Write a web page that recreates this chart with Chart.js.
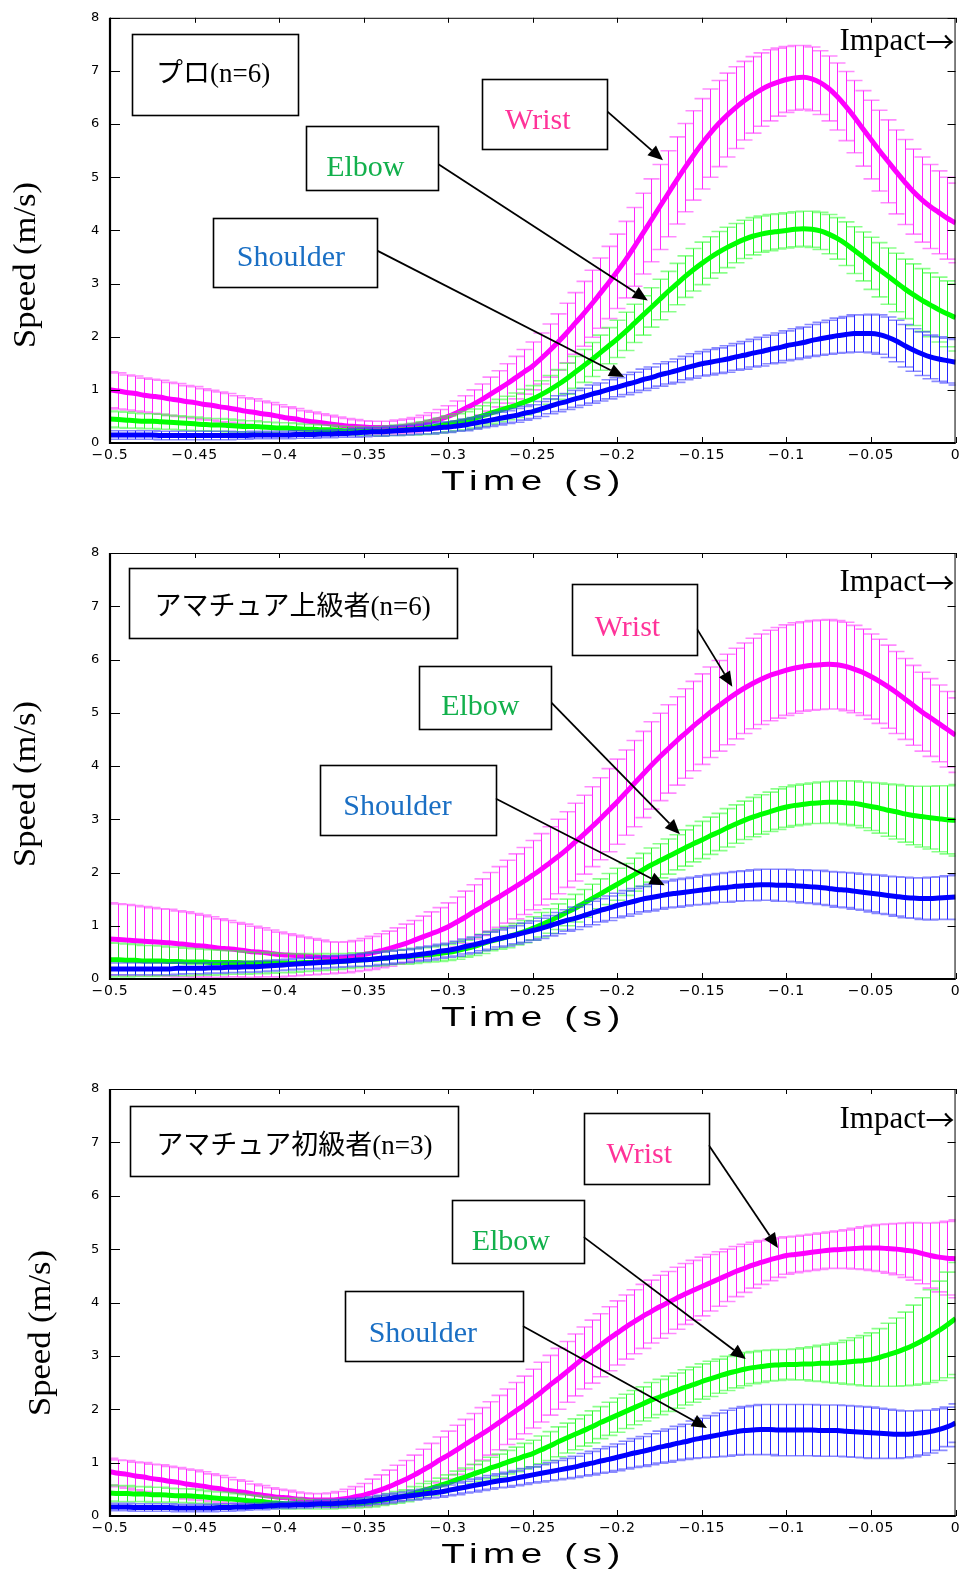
<!DOCTYPE html>
<html><head><meta charset="utf-8">
<script src="https://cdn.jsdelivr.net/npm/chart.js@4.4.0/dist/chart.umd.min.js"></script>
<style>
html,body{margin:0;padding:0;background:#fff;}
body{width:964px;height:1575px;position:relative;overflow:hidden;}
canvas{position:absolute;left:0;}
</style></head><body>
<canvas id="c1" width="964" height="525" style="top:0px"></canvas>
<canvas id="c2" width="964" height="535" style="top:525px"></canvas>
<canvas id="c3" width="964" height="515" style="top:1060px"></canvas>
<script>
// ---------- DATA ----------
const times = [-0.500,-0.495,-0.490,-0.485,-0.480,-0.475,-0.470,-0.465,-0.460,-0.455,-0.450,-0.445,-0.440,-0.435,-0.430,-0.425,-0.420,-0.415,-0.410,-0.405,-0.400,-0.395,-0.390,-0.385,-0.380,-0.375,-0.370,-0.365,-0.360,-0.355,-0.350,-0.345,-0.340,-0.335,-0.330,-0.325,-0.320,-0.315,-0.310,-0.305,-0.300,-0.295,-0.290,-0.285,-0.280,-0.275,-0.270,-0.265,-0.260,-0.255,-0.250,-0.245,-0.240,-0.235,-0.230,-0.225,-0.220,-0.215,-0.210,-0.205,-0.200,-0.195,-0.190,-0.185,-0.180,-0.175,-0.170,-0.165,-0.160,-0.155,-0.150,-0.145,-0.140,-0.135,-0.130,-0.125,-0.120,-0.115,-0.110,-0.105,-0.100,-0.095,-0.090,-0.085,-0.080,-0.075,-0.070,-0.065,-0.060,-0.055,-0.050,-0.045,-0.040,-0.035,-0.030,-0.025,-0.020,-0.015,-0.010,-0.005,0];

const xTickValues = [-0.5,-0.45,-0.4,-0.35,-0.3,-0.25,-0.2,-0.15,-0.1,-0.05,0];
const xTickLabels = ['\u22120.5','\u22120.45','\u22120.4','\u22120.35','\u22120.3','\u22120.25','\u22120.2','\u22120.15','\u22120.1','\u22120.05','0'];
const yTickValues = [0,1,2,3,4,5,6,7,8];
const yTickLabels = ['0','1','2','3','4','5','6','7','8'];

const seriesNames = ['Wrist','Elbow','Shoulder'];
const panelTitles = ['プロ(n=6)','アマチュア上級者(n=6)','アマチュア初級者(n=3)'];

// Panel 1: プロ
const p1WristMean = [1.00,0.98,0.95,0.93,0.90,0.88,0.86,0.83,0.81,0.78,0.76,
0.73,0.71,0.68,0.66,0.63,0.60,0.58,0.55,0.53,0.50,
0.47,0.45,0.42,0.40,0.38,0.36,0.34,0.32,0.31,0.30,
0.29,0.29,0.29,0.30,0.32,0.34,0.37,0.41,0.45,0.50,
0.57,0.65,0.73,0.82,0.92,1.02,1.12,1.23,1.34,1.45,
1.59,1.74,1.90,2.07,2.25,2.43,2.62,2.82,3.02,3.23,
3.45,3.69,3.94,4.19,4.44,4.69,4.94,5.18,5.41,5.63,
5.83,6.01,6.17,6.31,6.44,6.55,6.65,6.73,6.79,6.84,
6.87,6.88,6.85,6.78,6.67,6.52,6.34,6.14,5.92,5.71,
5.50,5.30,5.10,4.91,4.73,4.58,4.45,4.34,4.23,4.14];
const p1WristSD = [0.34,0.34,0.33,0.33,0.32,0.32,0.32,0.31,0.31,0.30,0.30,
0.29,0.28,0.28,0.27,0.26,0.25,0.25,0.24,0.23,0.22,
0.21,0.20,0.19,0.18,0.17,0.16,0.15,0.14,0.13,0.12,
0.12,0.12,0.12,0.13,0.13,0.14,0.15,0.16,0.18,0.20,
0.22,0.24,0.27,0.29,0.32,0.34,0.37,0.40,0.42,0.45,
0.48,0.50,0.53,0.56,0.58,0.61,0.63,0.66,0.68,0.70,
0.72,0.74,0.76,0.78,0.80,0.81,0.82,0.83,0.84,0.85,
0.83,0.81,0.79,0.77,0.74,0.72,0.69,0.67,0.64,0.62,
0.61,0.60,0.60,0.60,0.61,0.63,0.65,0.68,0.71,0.74,
0.76,0.78,0.79,0.80,0.80,0.80,0.79,0.78,0.77,0.75];
const p1ElbowMean = [0.45,0.44,0.43,0.42,0.41,0.41,0.40,0.39,0.38,0.37,0.36,
0.35,0.34,0.34,0.33,0.32,0.31,0.31,0.30,0.29,0.28,
0.28,0.27,0.26,0.26,0.25,0.25,0.24,0.23,0.23,0.22,
0.22,0.22,0.23,0.24,0.25,0.26,0.28,0.30,0.33,0.36,
0.39,0.42,0.46,0.51,0.56,0.61,0.66,0.71,0.77,0.83,
0.91,1.00,1.10,1.21,1.33,1.45,1.57,1.70,1.83,1.96,
2.10,2.25,2.40,2.55,2.70,2.85,2.99,3.13,3.26,3.38,
3.49,3.59,3.68,3.76,3.83,3.89,3.93,3.96,3.98,4.00,
4.02,4.03,4.02,3.99,3.93,3.85,3.75,3.63,3.51,3.38,
3.26,3.14,3.02,2.90,2.79,2.69,2.60,2.51,2.43,2.36];
const p1ElbowSD = [0.15,0.15,0.15,0.14,0.14,0.14,0.14,0.13,0.13,0.13,0.13,
0.12,0.12,0.12,0.12,0.11,0.11,0.11,0.10,0.10,0.10,
0.10,0.10,0.09,0.09,0.09,0.09,0.08,0.08,0.08,0.08,
0.08,0.09,0.09,0.10,0.10,0.11,0.12,0.13,0.14,0.15,
0.16,0.17,0.18,0.19,0.20,0.21,0.22,0.23,0.24,0.25,
0.26,0.27,0.28,0.29,0.30,0.31,0.32,0.33,0.34,0.35,
0.36,0.36,0.37,0.37,0.38,0.38,0.39,0.39,0.40,0.40,
0.39,0.39,0.38,0.37,0.36,0.35,0.34,0.34,0.33,0.33,
0.33,0.33,0.34,0.35,0.37,0.39,0.41,0.44,0.46,0.49,
0.51,0.53,0.55,0.56,0.58,0.59,0.60,0.61,0.62,0.63];
const p1ShoulderMean = [0.15,0.15,0.15,0.15,0.15,0.15,0.14,0.14,0.14,0.14,0.14,
0.14,0.14,0.14,0.14,0.14,0.14,0.15,0.15,0.15,0.15,
0.15,0.16,0.16,0.16,0.17,0.17,0.18,0.18,0.19,0.20,
0.21,0.21,0.22,0.23,0.24,0.25,0.26,0.27,0.29,0.30,
0.32,0.34,0.37,0.40,0.43,0.46,0.49,0.52,0.56,0.59,
0.64,0.69,0.74,0.78,0.83,0.87,0.92,0.96,1.01,1.05,
1.10,1.14,1.19,1.23,1.28,1.32,1.36,1.41,1.45,1.49,
1.52,1.55,1.58,1.62,1.65,1.69,1.72,1.76,1.79,1.83,
1.86,1.89,1.93,1.96,1.99,2.02,2.04,2.06,2.06,2.06,
2.04,1.99,1.92,1.83,1.75,1.68,1.62,1.58,1.55,1.52];
const p1ShoulderSD = [0.08,0.08,0.08,0.08,0.08,0.08,0.08,0.08,0.08,0.08,0.08,
0.08,0.08,0.08,0.08,0.07,0.07,0.07,0.07,0.07,0.07,
0.07,0.07,0.07,0.07,0.07,0.07,0.07,0.07,0.08,0.08,
0.08,0.08,0.08,0.09,0.09,0.09,0.09,0.10,0.10,0.10,
0.10,0.11,0.11,0.11,0.12,0.12,0.12,0.13,0.13,0.13,
0.14,0.14,0.15,0.15,0.16,0.16,0.17,0.17,0.18,0.18,
0.19,0.19,0.20,0.20,0.21,0.21,0.22,0.22,0.23,0.23,
0.24,0.24,0.25,0.25,0.26,0.26,0.27,0.27,0.28,0.28,
0.29,0.29,0.30,0.31,0.32,0.33,0.34,0.35,0.35,0.36,
0.37,0.38,0.39,0.40,0.40,0.41,0.41,0.42,0.42,0.43];

// Panel 2: アマチュア上級者
const p2WristMean = [0.75,0.74,0.73,0.72,0.71,0.70,0.69,0.68,0.66,0.65,0.63,
0.62,0.60,0.58,0.57,0.55,0.53,0.51,0.50,0.48,0.46,
0.45,0.44,0.43,0.42,0.41,0.40,0.40,0.41,0.43,0.46,
0.49,0.53,0.57,0.62,0.67,0.73,0.79,0.85,0.91,0.98,
1.07,1.16,1.26,1.35,1.45,1.54,1.64,1.74,1.84,1.95,
2.06,2.18,2.30,2.43,2.57,2.71,2.86,3.01,3.17,3.33,
3.50,3.67,3.84,4.01,4.17,4.32,4.47,4.61,4.75,4.88,
5.01,5.13,5.25,5.36,5.46,5.55,5.63,5.70,5.75,5.80,
5.84,5.87,5.89,5.90,5.91,5.90,5.87,5.82,5.76,5.68,
5.59,5.49,5.38,5.26,5.14,5.02,4.91,4.80,4.69,4.58];
const p2WristSD = [0.68,0.67,0.67,0.66,0.65,0.64,0.63,0.63,0.62,0.61,0.60,
0.58,0.57,0.55,0.53,0.51,0.50,0.48,0.46,0.44,0.42,
0.40,0.38,0.36,0.34,0.32,0.30,0.29,0.29,0.29,0.30,
0.31,0.32,0.33,0.34,0.36,0.37,0.39,0.41,0.43,0.45,
0.47,0.49,0.51,0.53,0.55,0.57,0.59,0.61,0.63,0.65,
0.67,0.68,0.70,0.71,0.73,0.74,0.75,0.77,0.78,0.80,
0.80,0.81,0.81,0.82,0.82,0.83,0.83,0.84,0.84,0.85,
0.85,0.85,0.85,0.85,0.85,0.85,0.85,0.85,0.85,0.85,
0.85,0.84,0.84,0.84,0.84,0.83,0.83,0.82,0.81,0.80,
0.79,0.78,0.77,0.76,0.75,0.74,0.73,0.72,0.71,0.70];
const p2ElbowMean = [0.36,0.36,0.35,0.35,0.34,0.34,0.34,0.33,0.33,0.32,0.32,
0.32,0.31,0.31,0.31,0.31,0.30,0.30,0.30,0.30,0.30,
0.30,0.30,0.31,0.31,0.32,0.32,0.33,0.34,0.35,0.36,
0.37,0.38,0.40,0.41,0.42,0.43,0.45,0.46,0.48,0.50,
0.53,0.57,0.61,0.66,0.71,0.75,0.79,0.84,0.89,0.95,
1.02,1.09,1.17,1.25,1.33,1.42,1.51,1.60,1.69,1.78,
1.87,1.96,2.05,2.14,2.22,2.30,2.38,2.46,2.54,2.61,
2.69,2.76,2.84,2.91,2.98,3.04,3.09,3.14,3.19,3.23,
3.26,3.28,3.30,3.31,3.32,3.32,3.31,3.30,3.27,3.24,
3.21,3.17,3.14,3.10,3.07,3.05,3.03,3.01,2.99,2.98];
const p2ElbowSD = [0.32,0.31,0.31,0.30,0.29,0.29,0.28,0.27,0.27,0.26,0.25,
0.24,0.24,0.23,0.22,0.22,0.21,0.20,0.20,0.19,0.18,
0.18,0.17,0.17,0.16,0.16,0.15,0.15,0.14,0.14,0.13,
0.13,0.13,0.13,0.13,0.14,0.14,0.14,0.14,0.15,0.15,
0.16,0.16,0.17,0.18,0.18,0.19,0.20,0.20,0.21,0.22,
0.23,0.23,0.24,0.25,0.26,0.26,0.27,0.28,0.29,0.30,
0.30,0.31,0.31,0.32,0.32,0.33,0.33,0.34,0.34,0.35,
0.35,0.35,0.36,0.36,0.36,0.37,0.37,0.37,0.38,0.38,
0.38,0.38,0.38,0.39,0.39,0.40,0.41,0.42,0.43,0.45,
0.47,0.49,0.51,0.53,0.55,0.57,0.59,0.62,0.64,0.67];
const p2ShoulderMean = [0.19,0.19,0.19,0.19,0.19,0.19,0.19,0.19,0.20,0.20,0.20,
0.20,0.21,0.21,0.22,0.22,0.23,0.23,0.24,0.25,0.26,
0.27,0.28,0.29,0.30,0.31,0.32,0.33,0.34,0.35,0.36,
0.37,0.39,0.40,0.42,0.43,0.45,0.47,0.49,0.52,0.54,
0.57,0.61,0.64,0.68,0.72,0.76,0.79,0.83,0.87,0.91,
0.95,1.00,1.05,1.10,1.14,1.19,1.24,1.29,1.33,1.38,
1.42,1.46,1.50,1.53,1.56,1.59,1.61,1.63,1.65,1.67,
1.69,1.71,1.72,1.74,1.75,1.76,1.77,1.77,1.76,1.76,
1.75,1.74,1.73,1.72,1.70,1.68,1.67,1.65,1.63,1.61,
1.59,1.57,1.55,1.53,1.52,1.51,1.51,1.52,1.53,1.54];
const p2ShoulderSD = [0.11,0.11,0.11,0.11,0.11,0.11,0.11,0.11,0.11,0.10,0.10,
0.10,0.10,0.10,0.10,0.10,0.10,0.10,0.10,0.10,0.10,
0.10,0.10,0.10,0.11,0.11,0.11,0.11,0.11,0.11,0.12,
0.12,0.12,0.12,0.12,0.12,0.12,0.13,0.13,0.13,0.13,
0.14,0.14,0.15,0.15,0.16,0.16,0.17,0.17,0.18,0.18,
0.19,0.19,0.20,0.20,0.21,0.21,0.22,0.22,0.23,0.23,
0.24,0.24,0.24,0.25,0.25,0.25,0.26,0.26,0.26,0.27,
0.27,0.27,0.28,0.28,0.28,0.29,0.29,0.29,0.30,0.30,
0.30,0.31,0.31,0.32,0.32,0.33,0.33,0.34,0.34,0.35,
0.36,0.36,0.37,0.38,0.38,0.39,0.40,0.40,0.41,0.42];

// Panel 3: アマチュア初級者
const p3WristMean = [0.83,0.80,0.78,0.75,0.73,0.70,0.68,0.65,0.63,0.60,0.58,
0.56,0.53,0.51,0.48,0.46,0.44,0.41,0.39,0.37,0.35,
0.34,0.32,0.31,0.30,0.30,0.30,0.31,0.33,0.36,0.39,
0.44,0.49,0.55,0.62,0.69,0.77,0.86,0.95,1.05,1.14,
1.24,1.34,1.44,1.54,1.64,1.75,1.86,1.97,2.08,2.20,
2.32,2.45,2.57,2.70,2.83,2.96,3.08,3.20,3.32,3.43,
3.54,3.64,3.74,3.83,3.92,4.00,4.08,4.16,4.23,4.30,
4.37,4.44,4.51,4.58,4.64,4.70,4.75,4.80,4.84,4.88,
4.90,4.92,4.94,4.96,4.98,4.99,5.00,5.01,5.02,5.02,
5.02,5.01,5.00,4.98,4.96,4.92,4.88,4.85,4.83,4.82];
const p3WristSD = [0.25,0.25,0.26,0.26,0.27,0.27,0.28,0.28,0.28,0.28,0.28,
0.27,0.26,0.25,0.24,0.22,0.21,0.19,0.18,0.16,0.15,
0.14,0.13,0.12,0.12,0.12,0.13,0.15,0.17,0.19,0.22,
0.25,0.28,0.31,0.33,0.35,0.37,0.39,0.41,0.43,0.45,
0.46,0.47,0.48,0.49,0.50,0.51,0.52,0.53,0.54,0.55,
0.56,0.56,0.57,0.57,0.58,0.58,0.59,0.59,0.60,0.60,
0.60,0.60,0.60,0.59,0.59,0.58,0.58,0.57,0.56,0.55,
0.53,0.51,0.49,0.47,0.45,0.43,0.41,0.39,0.37,0.35,
0.34,0.34,0.34,0.34,0.34,0.35,0.36,0.38,0.40,0.42,
0.44,0.46,0.48,0.51,0.54,0.57,0.61,0.65,0.69,0.73];
const p3ElbowMean = [0.43,0.42,0.42,0.41,0.41,0.40,0.40,0.39,0.38,0.38,0.37,
0.36,0.34,0.33,0.32,0.31,0.29,0.28,0.27,0.25,0.24,
0.23,0.23,0.22,0.22,0.22,0.22,0.22,0.23,0.23,0.24,
0.26,0.29,0.32,0.35,0.38,0.43,0.48,0.52,0.57,0.62,
0.68,0.73,0.79,0.84,0.90,0.95,1.01,1.06,1.12,1.17,
1.24,1.31,1.39,1.46,1.53,1.60,1.67,1.75,1.82,1.89,
1.96,2.03,2.10,2.17,2.23,2.29,2.35,2.41,2.46,2.52,
2.57,2.62,2.67,2.71,2.75,2.78,2.80,2.82,2.83,2.84,
2.84,2.85,2.85,2.86,2.86,2.87,2.88,2.90,2.91,2.93,
2.97,3.02,3.07,3.13,3.20,3.28,3.37,3.47,3.58,3.70];
const p3ElbowSD = [0.15,0.15,0.15,0.14,0.14,0.14,0.14,0.13,0.13,0.13,0.13,
0.12,0.12,0.12,0.12,0.11,0.11,0.11,0.10,0.10,0.10,
0.10,0.10,0.09,0.09,0.09,0.09,0.08,0.08,0.08,0.08,
0.09,0.09,0.10,0.11,0.11,0.12,0.13,0.13,0.14,0.15,
0.16,0.17,0.18,0.19,0.20,0.21,0.22,0.23,0.24,0.25,
0.26,0.27,0.28,0.28,0.29,0.29,0.30,0.30,0.31,0.32,
0.32,0.32,0.32,0.33,0.33,0.33,0.33,0.33,0.33,0.33,
0.33,0.32,0.32,0.31,0.31,0.30,0.30,0.29,0.29,0.28,
0.29,0.30,0.32,0.34,0.36,0.38,0.41,0.44,0.47,0.50,
0.54,0.59,0.64,0.69,0.75,0.81,0.87,0.93,0.99,1.05];
const p3ShoulderMean = [0.17,0.17,0.17,0.16,0.16,0.16,0.16,0.16,0.15,0.15,0.15,
0.15,0.15,0.16,0.16,0.17,0.17,0.18,0.18,0.19,0.20,
0.20,0.21,0.21,0.22,0.23,0.23,0.24,0.25,0.26,0.27,
0.29,0.31,0.33,0.35,0.37,0.39,0.41,0.43,0.45,0.48,
0.51,0.54,0.57,0.60,0.63,0.66,0.68,0.71,0.74,0.77,
0.80,0.83,0.86,0.89,0.92,0.96,0.99,1.03,1.06,1.10,
1.14,1.18,1.21,1.25,1.29,1.32,1.36,1.39,1.43,1.46,
1.49,1.52,1.55,1.58,1.60,1.61,1.62,1.62,1.61,1.61,
1.61,1.61,1.61,1.60,1.60,1.60,1.59,1.58,1.57,1.56,
1.55,1.54,1.53,1.53,1.54,1.56,1.58,1.62,1.67,1.74];
const p3ShoulderSD = [0.07,0.07,0.07,0.07,0.07,0.07,0.07,0.07,0.07,0.07,0.07,
0.07,0.07,0.07,0.07,0.07,0.06,0.06,0.06,0.06,0.06,
0.06,0.06,0.06,0.06,0.07,0.07,0.07,0.07,0.07,0.07,
0.07,0.08,0.08,0.08,0.08,0.09,0.09,0.09,0.10,0.10,
0.11,0.11,0.12,0.12,0.13,0.13,0.14,0.14,0.15,0.15,
0.16,0.17,0.18,0.19,0.20,0.21,0.22,0.23,0.24,0.25,
0.26,0.27,0.28,0.29,0.30,0.31,0.32,0.33,0.35,0.37,
0.39,0.41,0.43,0.44,0.45,0.46,0.47,0.47,0.48,0.48,
0.48,0.48,0.48,0.48,0.48,0.48,0.48,0.48,0.48,0.48,
0.47,0.46,0.45,0.44,0.43,0.42,0.40,0.39,0.37,0.36];

// ---------- STYLE / LAYOUT ----------
const seriesStyle = {
  Wrist:    {line:'#ff00ff', bar:'rgba(255,0,255,0.85)', cap:'rgba(255,60,255,0.6)', text:'#ff3399', order:3},
  Elbow:    {line:'#00ff00', bar:'rgba(0,240,0,0.85)',   cap:'rgba(60,255,60,0.6)',  text:'#12b04c', order:2},
  Shoulder: {line:'#0000ff', bar:'rgba(0,0,255,0.85)',   cap:'rgba(60,60,255,0.6)',  text:'#1a6fc4', order:1}
};

// annotation positions in data units (x: s, y: m/s)
const panels = [
  { canvas:'c1', areaTop:16, areaBottom:443, height:525,
    series:{Wrist:[p1WristMean,p1WristSD], Elbow:[p1ElbowMean,p1ElbowSD], Shoulder:[p1ShoulderMean,p1ShoulderSD]},
    titleBox:{x0:-0.487,x1:-0.389,y0:6.18,y1:7.70, tx:-0.439, ty:6.93},
    boxes:{
      Wrist:   {x0:-0.280,x1:-0.206,y0:5.53,y1:6.84, tx:-0.247, ty:6.05, from:[-0.206,6.24], to:[-0.173,5.32]},
      Elbow:   {x0:-0.384,x1:-0.306,y0:4.76,y1:5.96, tx:-0.349, ty:5.17, from:[-0.306,5.25], to:[-0.182,2.68]},
      Shoulder:{x0:-0.439,x1:-0.342,y0:2.94,y1:4.23, tx:-0.393, ty:3.47, from:[-0.342,3.62], to:[-0.196,1.24]}
    },
    impactY:7.55, yTitle:{x:27, y:265}, xTitleDy:39 },
  { canvas:'c2', areaTop:28, areaBottom:454, height:535,
    series:{Wrist:[p2WristMean,p2WristSD], Elbow:[p2ElbowMean,p2ElbowSD], Shoulder:[p2ShoulderMean,p2ShoulderSD]},
    titleBox:{x0:-0.489,x1:-0.295,y0:6.41,y1:7.72, tx:-0.392, ty:6.97},
    boxes:{
      Wrist:   {x0:-0.227,x1:-0.153,y0:6.09,y1:7.42, tx:-0.194, ty:6.59, from:[-0.153,6.58], to:[-0.132,5.49]},
      Elbow:   {x0:-0.317,x1:-0.239,y0:4.70,y1:5.88, tx:-0.281, ty:5.11, from:[-0.239,5.19], to:[-0.163,2.72]},
      Shoulder:{x0:-0.376,x1:-0.272,y0:2.70,y1:4.01, tx:-0.330, ty:3.22, from:[-0.272,3.39], to:[-0.172,1.76]}
    },
    impactY:7.44, yTitle:{x:27, y:259}, xTitleDy:39 },
  { canvas:'c3', areaTop:29, areaBottom:456, height:515,
    series:{Wrist:[p3WristMean,p3WristSD], Elbow:[p3ElbowMean,p3ElbowSD], Shoulder:[p3ShoulderMean,p3ShoulderSD]},
    titleBox:{x0:-0.488,x1:-0.294,y0:6.37,y1:7.68, tx:-0.391, ty:6.91},
    boxes:{
      Wrist:   {x0:-0.220,x1:-0.146,y0:6.22,y1:7.55, tx:-0.187, ty:6.76, from:[-0.146,6.95], to:[-0.105,5.02]},
      Elbow:   {x0:-0.298,x1:-0.220,y0:4.74,y1:5.92, tx:-0.263, ty:5.13, from:[-0.220,5.23], to:[-0.124,2.94]},
      Shoulder:{x0:-0.361,x1:-0.256,y0:2.90,y1:4.22, tx:-0.315, ty:3.41, from:[-0.256,3.56], to:[-0.147,1.65]}
    },
    impactY:7.42, yTitle:{x:42, y:273}, xTitleDy:39 }
];

// ---------- PLUGINS ----------
const errorBarPlugin = {
  id:'errorBars',
  beforeDatasetDraw(chart, args) {
    const ds = chart.data.datasets[args.index];
    if (!ds.sd) return;
    const {ctx, chartArea:a, scales:{x, y}} = chart;
    ctx.save();
    ctx.beginPath(); ctx.rect(a.left, a.top, a.right - a.left, a.bottom - a.top); ctx.clip();
    ctx.lineWidth = 1; ctx.strokeStyle = ds.barColor;
    ctx.beginPath();
    ds.data.forEach((p, i) => {
      const px = Math.round(x.getPixelForValue(p.x)) + 0.5;
      ctx.moveTo(px, y.getPixelForValue(p.y + ds.sd[i]));
      ctx.lineTo(px, y.getPixelForValue(p.y - ds.sd[i]));
    });
    ctx.stroke();
    ctx.lineWidth = 1.6; ctx.strokeStyle = ds.capColor;
    ctx.beginPath();
    ds.data.forEach((p, i) => {
      const px = Math.round(x.getPixelForValue(p.x)) + 0.5;
      const yt = y.getPixelForValue(p.y + ds.sd[i]);
      const yb = y.getPixelForValue(p.y - ds.sd[i]);
      ctx.moveTo(px - 8, yt); ctx.lineTo(px + 8, yt);
      ctx.moveTo(px - 8, yb); ctx.lineTo(px + 8, yb);
    });
    ctx.stroke();
    ctx.restore();
  }
};

const framePlugin = {
  id:'frame',
  afterDatasetsDraw(chart) {
    const {ctx, chartArea:a, scales:{x, y}} = chart;
    ctx.save();
    ctx.strokeStyle = '#000';
    ctx.lineWidth = 1;
    ctx.beginPath();
    ctx.moveTo(a.left, a.top + 0.5); ctx.lineTo(a.right, a.top + 0.5);
    ctx.moveTo(a.right - 0.5, a.top); ctx.lineTo(a.right - 0.5, a.bottom);
    y.ticks.forEach(t => {
      const py = Math.round(y.getPixelForValue(t.value)) + 0.5;
      ctx.moveTo(a.left, py); ctx.lineTo(a.left + 10, py);
      ctx.moveTo(a.right, py); ctx.lineTo(a.right - 8, py);
    });
    x.ticks.forEach(t => {
      const px = Math.round(x.getPixelForValue(t.value)) + 0.5;
      ctx.moveTo(px, a.bottom); ctx.lineTo(px, a.bottom - 6);
      ctx.moveTo(px, a.top); ctx.lineTo(px, a.top + 5);
    });
    ctx.stroke();
    ctx.lineWidth = 2.2;
    ctx.beginPath();
    ctx.moveTo(a.left, a.top); ctx.lineTo(a.left, a.bottom + 1);
    ctx.moveTo(a.left - 1, a.bottom); ctx.lineTo(a.right, a.bottom);
    ctx.stroke();
    ctx.restore();
  }
};

function drawFitText(ctx, text, cx, cy, width, font, spacing, rotate) {
  ctx.save();
  ctx.font = font;
  ctx.letterSpacing = spacing + 'px';
  const w = ctx.measureText(text).width - spacing;
  ctx.translate(cx, cy);
  if (rotate) ctx.rotate(-Math.PI / 2);
  ctx.scale(width / w, 1);
  ctx.textAlign = 'center'; ctx.textBaseline = 'middle';
  ctx.fillStyle = '#000';
  ctx.fillText(text, spacing / 2, 0);
  ctx.restore();
}

function drawArrow(ctx, x0, y0, x1, y1) {
  const ang = Math.atan2(y1 - y0, x1 - x0);
  const L = 15, W = 6.5;
  const bx = x1 - L * Math.cos(ang), by = y1 - L * Math.sin(ang);
  ctx.beginPath(); ctx.moveTo(x0, y0); ctx.lineTo(bx, by); ctx.stroke();
  ctx.beginPath();
  ctx.moveTo(x1, y1);
  ctx.lineTo(bx + W * Math.sin(ang), by - W * Math.cos(ang));
  ctx.lineTo(bx - W * Math.sin(ang), by + W * Math.cos(ang));
  ctx.closePath(); ctx.fill();
}

const annotationPlugin = {
  id:'annotations',
  afterDraw(chart, args, opts) {
    const cfg = opts.panel;
    const {ctx, chartArea:a, scales:{x, y}} = chart;
    const X = v => x.getPixelForValue(v), Y = v => y.getPixelForValue(v);
    ctx.save();
    ctx.letterSpacing = '0px';
    const box = (b, text, color, font) => {
      ctx.fillStyle = '#fff';
      ctx.fillRect(X(b.x0), Y(b.y1), X(b.x1) - X(b.x0), Y(b.y0) - Y(b.y1));
      ctx.strokeStyle = '#000'; ctx.lineWidth = 1.6;
      ctx.strokeRect(Math.round(X(b.x0)) + 0.5, Math.round(Y(b.y1)) + 0.5,
                     Math.round(X(b.x1) - X(b.x0)), Math.round(Y(b.y0) - Y(b.y1)));
      ctx.fillStyle = color; ctx.font = font;
      ctx.textAlign = 'center'; ctx.textBaseline = 'middle';
      ctx.fillText(text, X(b.tx), Y(b.ty));
    };
    box(cfg.titleBox, cfg.title, '#000', '27px "Liberation Serif", "Noto Sans CJK JP", serif');
    seriesNames.forEach(n => {
      const b = cfg.boxes[n];
      ctx.strokeStyle = '#000'; ctx.fillStyle = '#000'; ctx.lineWidth = 1.8;
      drawArrow(ctx, X(b.from[0]), Y(b.from[1]), X(b.to[0]), Y(b.to[1]));
    });
    seriesNames.forEach(n => box(cfg.boxes[n], n, seriesStyle[n].text, '30px "Liberation Serif", serif'));
    // Impact label
    ctx.fillStyle = '#000';
    ctx.textBaseline = 'middle';
    ctx.font = '31px "Liberation Serif", serif';
    ctx.textAlign = 'right';
    ctx.fillText('Impact', X(0) - 30, Y(cfg.impactY));
    ctx.font = '29px "Noto Sans CJK JP", sans-serif';
    ctx.textAlign = 'left';
    ctx.fillText('\u2192', X(0) - 30, Y(cfg.impactY));
    ctx.restore();
    // axis titles
    drawFitText(ctx, 'Time (s)', (a.left + a.right) / 2 - 2, a.bottom + cfg.xTitleDy, 179,
                '28px "Liberation Sans", Arial, sans-serif', 4, false);
    drawFitText(ctx, 'Speed (m/s)', cfg.yTitle.x, cfg.yTitle.y, 166,
                '31px "Liberation Serif", serif', 0, true);
  }
};

const spacingPlugin = {
  id:'spacing',
  beforeDraw(chart) { chart.ctx.letterSpacing = '0.7px'; }
};

// ---------- CHARTS ----------
Chart.defaults.color = '#000';
Chart.defaults.font.family = '"DejaVu Sans", sans-serif';
Chart.defaults.font.size = 13;

panels.forEach((cfg, pi) => {
  cfg.title = panelTitles[pi];
  const datasets = seriesNames.map(n => ({
    label: n,
    data: times.map((t, i) => ({x: t, y: cfg.series[n][0][i]})),
    sd: cfg.series[n][1],
    borderColor: seriesStyle[n].line,
    barColor: seriesStyle[n].bar,
    capColor: seriesStyle[n].cap,
    borderWidth: 5,
    pointRadius: 0,
    cubicInterpolationMode: 'monotone',
    order: seriesStyle[n].order,
    clip: 0
  }));
  new Chart(document.getElementById(cfg.canvas), {
    type: 'line',
    data: { datasets },
    options: {
      responsive: false,
      devicePixelRatio: 1,
      animation: false,
      events: [],
      layout: { padding: { top: cfg.areaTop, right: 5, left: 0, bottom: 0 } },
      plugins: { legend: {display:false}, tooltip: {enabled:false}, annotations: { panel: cfg } },
      scales: {
        x: {
          type: 'linear', min: -0.5, max: 0,
          afterBuildTicks: s => { s.ticks = xTickValues.map(v => ({value: v})); },
          ticks: { callback: (v, i) => xTickLabels[i], padding: 4, maxRotation: 0, autoSkip: false,
                   font: { size: 14 } },
          grid: { display: false, drawTicks: false },
          border: { display: false },
          afterFit: s => { s.height = cfg.height - cfg.areaBottom; }
        },
        y: {
          type: 'linear', min: 0, max: 8,
          afterBuildTicks: s => { s.ticks = yTickValues.map(v => ({value: v})); },
          ticks: { callback: (v, i) => yTickLabels[i], padding: 10, autoSkip: false },
          grid: { display: false, drawTicks: false },
          border: { display: false },
          afterFit: s => { s.width = 110; }
        }
      }
    },
    plugins: [spacingPlugin, errorBarPlugin, framePlugin, annotationPlugin]
  });
});
</script>
</body></html>
